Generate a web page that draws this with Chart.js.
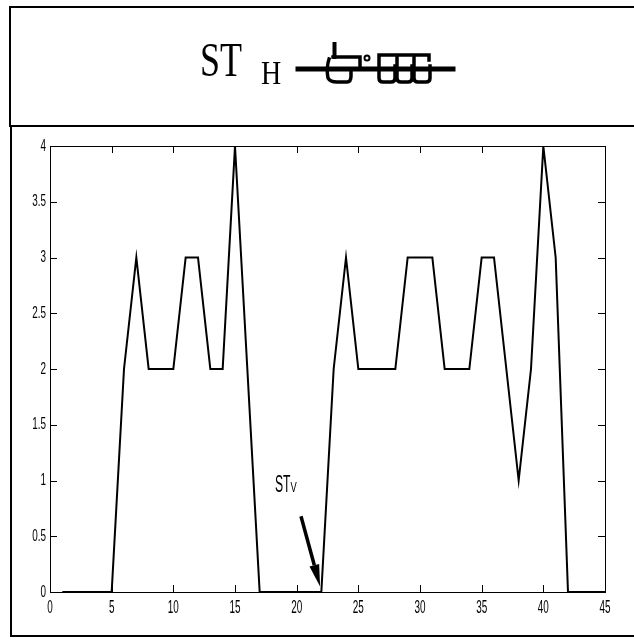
<!DOCTYPE html>
<html>
<head>
<meta charset="utf-8">
<script src="https://cdn.jsdelivr.net/npm/chart.js@4"></script>
<style>
  html, body { margin: 0; padding: 0; background: #fff; }
  #wrap { position: relative; width: 634px; height: 640px; overflow: hidden; }
  canvas { position: absolute; left: 0; top: 0; }
  .box { position: absolute; border: 2px solid #000; box-sizing: border-box; pointer-events: none; }
  .ttl { position: absolute; font-family: "Liberation Serif", "Times New Roman", serif; color: #000; transform-origin: 0 0; white-space: nowrap; }
</style>
</head>
<body>
<div id="wrap">
  <canvas id="c" width="634" height="640"></canvas>
  <div class="box" style="left:9px; top:6px; width:640px; height:121px;"></div>
  <div class="box" style="left:10px; top:125px; width:640px; height:512px;"></div>
  <div class="ttl" style="left:200px; top:31px; font-size:36px; transform:scaleY(1.36);">ST</div>
  <div class="ttl" style="left:261px; top:54px; font-size:28px; transform:scaleY(1.2);">H</div>
  <svg style="position:absolute; left:295px; top:38px;" width="165" height="52" viewBox="0 0 165 52">
    <g fill="none" stroke="#000" stroke-width="3.5" stroke-linecap="square">
      <path d="M3,31 H158" stroke-width="5"/>
      <path d="M39.5,6 V19" stroke-width="4"/>
      <path d="M38,19 H65 V28"/>
      <path d="M34,21 Q31,30 33,40 Q35,44 42,44 H52 Q56,44 56,38 V34"/>
      <circle cx="72" cy="20" r="2.5" stroke-width="2"/>
      <path d="M84,17 H99 M84,17 V40 Q84,44 88,44 H96 Q100,44 100,40 V28"/>
      <path d="M102,17 H116 M102,17 V40 Q102,44 106,44 H113 Q117,44 117,40 V28"/>
      <path d="M119,17 H134 V22 M119,17 V40 Q119,44 123,44 H131 Q135,44 135,40 V28"/>
    </g>
  </svg>
</div>
<script>
// ---- data ----
const xValues = [1,2,3,4,5,6,7,8,9,10,11,12,13,14,15,16,17,18,19,20,21,22,23,24,25,26,27,28,29,30,31,32,33,34,35,36,37,38,39,40,41,42,43,44,45];
const yValues = [0,0,0,0,0,2,3,2,2,2,3,3,2,2,4,2,0,0,0,0,0,0,2,3,2,2,2,2,3,3,3,2,2,2,3,3,2,1,2,4,3,0,0,0,0];
const xTickValues = [0,5,10,15,20,25,30,35,40,45];
const yTickValues = [0,0.5,1,1.5,2,2.5,3,3.5,4];
const annotationLabel = "ST";
const annotationSub = "V";
// annotation anchor points (data units)
const arrowTail = {x: 20.35, y: 0.68};
const arrowTip = {x: 21.9, y: 0.05};
const labelPos = {x: 18.24, y: 0.9};

const frame = {
  id: 'frame',
  afterDatasetsDraw(chart) {
    const ctx = chart.ctx;
    const xs = chart.scales.x, ys = chart.scales.y;
    const a = chart.chartArea;
    ctx.save();
    ctx.strokeStyle = '#000';
    ctx.lineWidth = 1;
    ctx.strokeRect(Math.round(a.left) + 0.5, Math.round(a.top) + 0.5,
                   Math.round(a.right - a.left), Math.round(a.bottom - a.top));
    const tl = 7;
    ctx.beginPath();
    xs.ticks.forEach(t => {
      const px = Math.round(xs.getPixelForValue(t.value)) + 0.5;
      ctx.moveTo(px, a.bottom); ctx.lineTo(px, a.bottom - tl);
      ctx.moveTo(px, a.top); ctx.lineTo(px, a.top + tl);
    });
    ys.ticks.forEach(t => {
      const py = Math.round(ys.getPixelForValue(t.value)) + 0.5;
      ctx.moveTo(a.left, py); ctx.lineTo(a.left + tl, py);
      ctx.moveTo(a.right, py); ctx.lineTo(a.right - tl, py);
    });
    ctx.stroke();

    // tick labels (condensed)
    ctx.fillStyle = '#000';
    ctx.font = '16px "Liberation Sans", Arial, sans-serif';
    const sx = 0.62;
    xs.ticks.forEach(t => {
      const px = xs.getPixelForValue(t.value);
      ctx.save();
      ctx.translate(px, a.bottom + 7);
      ctx.scale(sx, 1.1);
      ctx.textAlign = 'center'; ctx.textBaseline = 'top';
      ctx.fillText(String(t.value), 0, 0);
      ctx.restore();
    });
    ys.ticks.forEach(t => {
      const py = ys.getPixelForValue(t.value);
      ctx.save();
      ctx.translate(a.left - 4, py);
      ctx.scale(sx, 1.05);
      ctx.textAlign = 'right'; ctx.textBaseline = 'middle';
      ctx.fillText(String(t.value), 0, 0);
      ctx.restore();
    });

    // annotation
    const lx = xs.getPixelForValue(labelPos.x), ly = ys.getPixelForValue(labelPos.y);
    ctx.save();
    ctx.translate(lx, ly);
    ctx.scale(0.58, 1.15);
    ctx.font = '21px "Liberation Sans", Arial, sans-serif';
    ctx.textAlign = 'left'; ctx.textBaseline = 'alphabetic';
    ctx.fillText(annotationLabel, 0, 0);
    const w = ctx.measureText(annotationLabel).width * 0.58;
    ctx.restore();
    ctx.save();
    ctx.translate(lx + w, ly);
    ctx.scale(0.72, 1.1);
    ctx.font = '13px "Liberation Sans", Arial, sans-serif';
    ctx.textAlign = 'left'; ctx.textBaseline = 'alphabetic';
    ctx.fillText(annotationSub, 0, 0);
    ctx.restore();

    const x0 = xs.getPixelForValue(arrowTail.x), y0 = ys.getPixelForValue(arrowTail.y);
    const x1 = xs.getPixelForValue(arrowTip.x), y1 = ys.getPixelForValue(arrowTip.y);
    const ang = Math.atan2(y1 - y0, x1 - x0);
    const hl = 22, hw = 5;
    const bx = x1 - hl * Math.cos(ang), by = y1 - hl * Math.sin(ang);
    ctx.strokeStyle = '#000';
    ctx.lineWidth = 3.5;
    ctx.beginPath(); ctx.moveTo(x0, y0); ctx.lineTo(bx, by); ctx.stroke();
    ctx.beginPath();
    ctx.moveTo(x1, y1);
    ctx.lineTo(bx + hw * Math.sin(ang), by - hw * Math.cos(ang));
    ctx.lineTo(bx - hw * Math.sin(ang), by + hw * Math.cos(ang));
    ctx.closePath(); ctx.fill();
    ctx.restore();
  }
};

new Chart(document.getElementById('c'), {
  type: 'line',
  data: {
    datasets: [{
      data: xValues.map((x, i) => ({x: x, y: yValues[i]})),
      borderColor: '#000',
      borderWidth: 2,
      pointRadius: 0,
      tension: 0,
      fill: false,
      clip: false
    }]
  },
  options: {
    responsive: false,
    animation: false,
    events: [],
    layout: { padding: { left: 0, top: 146, right: 29, bottom: 0 } },
    plugins: { legend: { display: false }, tooltip: { enabled: false }, title: { display: false } },
    scales: {
      x: {
        type: 'linear', min: 0, max: 45,
        afterBuildTicks(s) { s.ticks = xTickValues.map(v => ({value: v})); },
        ticks: { display: false },
        grid: { display: false },
        border: { display: false },
        afterFit(s) { s.height = 48; }
      },
      y: {
        type: 'linear', min: 0, max: 4,
        afterBuildTicks(s) { s.ticks = yTickValues.map(v => ({value: v})); },
        ticks: { display: false },
        grid: { display: false },
        border: { display: false },
        afterFit(s) { s.width = 50; }
      }
    }
  },
  plugins: [frame]
});
</script>
</body>
</html>
